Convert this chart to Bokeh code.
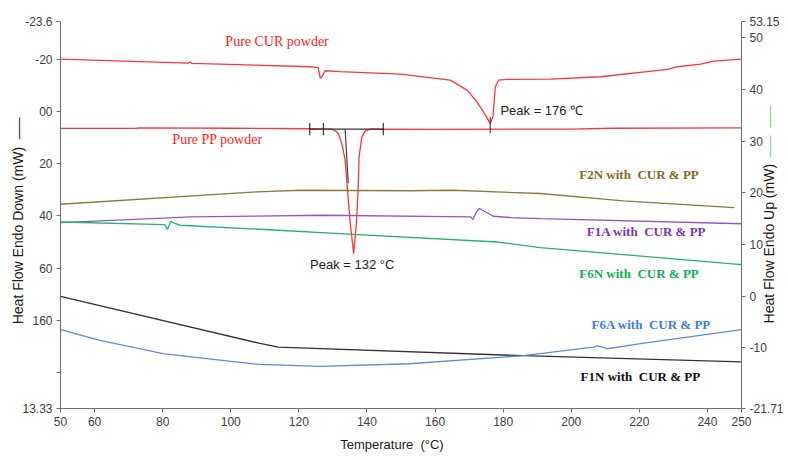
import math
from bokeh.plotting import figure
from bokeh.models import Range1d, LinearAxis, FixedTicker, CustomJSTickFormatter, Label
from bokeh.embed import file_html
from bokeh.resources import INLINE

# ---------------- data (temperature in °C, heat flow in mW on the right-axis scale) ----------------
cur_T = [50, 87.5, 88.1, 88.6, 123.3, 125.7, 126.3, 126.9, 127.7, 132.1, 149.8, 164.5, 169.4, 172.3,
         174.8, 176.2, 177.0, 177.7, 178.7, 181.1, 193.9, 208.6, 228.3, 231.2, 238.0, 241.8, 250]
cur_v = [45.89, 45.11, 45.31, 45.05, 44.40, 44.24, 42.15, 42.60, 43.62, 43.47, 42.98, 41.82, 39.88, 37.62,
         35.04, 33.43, 34.71, 40.52, 41.82, 41.96, 42.01, 42.46, 43.89, 44.40, 44.92, 45.50, 45.89]

pp_T = [50, 72.3, 72.7, 100, 123.0, 129.7, 130.7, 131.6, 132.6, 133.6, 134.3, 135.1, 136.1, 136.9,
        137.4, 137.7, 138.5, 139.5, 141.0, 160, 200, 212, 250]
pp_v = [32.46, 32.46, 32.58, 32.50, 32.40, 32.33, 32.00, 31.50, 29.56, 26.33, 20.51, 14.06, 8.25, 14.06,
        20.51, 26.96, 30.84, 32.00, 32.33, 32.30, 32.35, 32.50, 32.58]

f2n_T = [50, 107.6, 120.4, 152.4, 165.4, 190.9, 215.3, 247.9]
f2n_v = [17.80, 20.19, 20.51, 20.41, 20.51, 19.88, 18.44, 17.16]

f1a_T = [50, 88.4, 126.9, 170.5, 171.1, 172.1, 173.0, 174.5, 177.1, 182.1, 191.2, 250]
f1a_v = [14.26, 15.34, 15.67, 15.34, 14.84, 16.25, 16.97, 16.45, 15.48, 15.23, 15.03, 14.03]

f6n_T = [50, 80.65, 81.4, 81.9, 82.4, 83.7, 85.1, 108.6, 136.0, 178.2, 190.9, 250]
f6n_v = [14.37, 13.87, 12.90, 13.74, 14.51, 14.03, 13.74, 12.96, 11.99, 10.50, 9.42, 6.12]

f1n_T = [50, 108.6, 113.9, 185.9, 250]
f1n_v = [-0.02, -9.12, -9.84, -11.50, -12.70]

f6a_T = [50, 61.6, 80.1, 100.1, 108.6, 126.3, 152.4, 185.9, 206.5, 207.7, 210.6, 220.3, 250]
f6a_v = [-6.47, -8.54, -11.11, -12.60, -13.19, -13.58, -13.05, -11.50, -9.84, -9.61, -10.15, -9.18, -6.47]

# peak-analysis marks
pp_base_T = [123.2, 144.8]
pp_base_v = 32.33
pp_tick_T = [123.2, 127.2, 144.8]
pp_tangent_T = [133.6, 134.5]
pp_tangent_v = [32.33, 21.87]
cur_peak_T = 176.2
cur_peak_v = [34.65, 31.55]

# axes
x_ticks = [50, 60, 80, 100, 120, 140, 160, 180, 200, 220, 240, 250]
right_ticks = [-21.71, -10, 0, 10, 20, 30, 40, 50, 53.15]
right_tick_labels = ["-21.71", "-10", "0", "10", "20", "30", "40", "50", "53.15"]
left_ticks = [-34.35, -20, 0, 20, 40, 60, 80, 100, 113.6]
left_tick_labels = ["-23.6", "-20", "00", "20", "40", "60", "160", "", "13.33"]
right_title = "Heat Flow Endo Up (mW)"
right_title_start = -5.25      # where the rotated right title begins (right-axis units)
right_key_start = 26.91        # where its green line keys begin

NB = "\u00a0"

# ---------------- figure ----------------
FONT = "Liberation Sans"
SERIF = "Liberation Serif"
AX = "#6e6e6e"
TXT = "#404040"

p = figure(width=788, height=460, output_backend="svg", toolbar_location=None,
           x_range=Range1d(50, 250), y_range=Range1d(-21.71, 53.15),
           y_axis_location="right",
           min_border_left=60, min_border_right=47, min_border_top=21, min_border_bottom=52)
p.outline_line_color = None
p.xgrid.visible = False
p.ygrid.visible = False
p.background_fill_color = "white"

p.extra_y_ranges = {"left": Range1d(start=113.6, end=-34.35)}


def fmt(vals, labels):
    return CustomJSTickFormatter(args=dict(vals=vals, labels=labels), code="""
for (let i = 0; i < vals.length; i++) { if (Math.abs(vals[i] - tick) < 1e-6) return labels[i]; }
return "";
""")


def style(ax):
    ax.axis_line_color = AX
    ax.major_tick_line_color = AX
    ax.major_tick_out = 4
    ax.major_tick_in = 0
    ax.minor_tick_out = 0
    ax.minor_tick_in = 0
    ax.major_label_text_font = FONT
    ax.major_label_text_font_size = "12px"
    ax.major_label_text_color = TXT
    ax.major_label_standoff = 4
    ax.axis_label_text_font = FONT
    ax.axis_label_text_font_style = "normal"
    ax.axis_label_text_font_size = "14px"
    ax.axis_label_text_color = "#1a1a1a"


xa = p.xaxis[0]
style(xa)
xa.ticker = FixedTicker(ticks=x_ticks)
xa.axis_label = "Temperature" + NB + " (°C)" + NB * 5
xa.axis_label_text_font_size = "13px"
xa.axis_label_standoff = 8

ra = p.yaxis[0]
style(ra)
ra.ticker = FixedTicker(ticks=right_ticks)
ra.formatter = fmt(right_ticks, right_tick_labels)


def title_axis(at, text, color, standoff):
    ax = LinearAxis()
    ax.ticker = FixedTicker(ticks=[at])
    ax.formatter = fmt([at], [text])
    ax.axis_line_color = None
    ax.major_tick_line_color = None
    ax.major_tick_out = 0
    ax.major_tick_in = 0
    ax.minor_tick_out = 0
    ax.minor_tick_in = 0
    ax.major_label_standoff = standoff
    ax.major_label_orientation = math.pi / 2
    ax.major_label_text_font = FONT
    ax.major_label_text_font_size = "14px"
    ax.major_label_text_color = color
    p.add_layout(ax, "right")


title_axis(right_title_start, right_title, "#1a1a1a", -17)
title_axis(right_key_start, "—–" + NB * 2 + "—–", "#86c486", -19)

la = LinearAxis(y_range_name="left")
style(la)
la.ticker = FixedTicker(ticks=left_ticks)
la.formatter = fmt(left_ticks, left_tick_labels)
la.axis_label = "Heat Flow Endo Down (mW)" + NB * 2 + "—–" + NB * 3
la.axis_label_standoff = -7
p.add_layout(la, "left")

# ---------------- curves ----------------
LW = 1.3
p.line(cur_T, cur_v, color="#ff3636", line_width=LW)
p.line(pp_T, pp_v, color="#ff3636", line_width=LW)
p.line(f2n_T, f2n_v, color="#8e7a3c", line_width=LW)
p.line(f1a_T, f1a_v, color="#9456c4", line_width=LW)
p.line(f6n_T, f6n_v, color="#22b566", line_width=LW)
p.line(f1n_T, f1n_v, color="#333333", line_width=LW)
p.line(f6a_T, f6a_v, color="#5f8ae0", line_width=LW)

# peak-analysis marks
p.segment(x0=[pp_base_T[0]], y0=[pp_base_v], x1=[pp_base_T[1]], y1=[pp_base_v], color="#333333", line_width=1.2)
p.segment(x0=pp_tick_T, y0=[pp_base_v + 1.2] * 3, x1=pp_tick_T, y1=[pp_base_v - 1.2] * 3, color="#222222", line_width=1.1)
p.segment(x0=[pp_tangent_T[0]], y0=[pp_tangent_v[0]], x1=[pp_tangent_T[1]], y1=[pp_tangent_v[1]], color="#444444", line_width=1.2)
p.segment(x0=[cur_peak_T], y0=[cur_peak_v[0]], x1=[cur_peak_T], y1=[cur_peak_v[1]], color="#333333", line_width=1.1)

# ---------------- texts ----------------
def lab(x, y, text, color, font=FONT, size="13px", style="normal", align="center"):
    p.add_layout(Label(x=x, y=y, text=text, text_color=color, text_font=font, text_font_size=size,
                       text_font_style=style, text_align=align, text_baseline="middle"))

lab(113.6, 49.37, "Pure CUR powder", "#ff1a1a", font=SERIF, size="14px")
lab(96.1, 30.39, "Pure PP powder", "#ff1a1a", font=SERIF, size="14px")
lab(179.2, 36.01, "Peak = 176 ℃", "#222222", align="left")
lab(123.3, 6.18, "Peak = 132 °C", "#222222", align="left")

W = "with" + NB + " "
lab(219.9, 23.61, "F2N " + W + "CUR & PP", "#86681a", font=SERIF, style="bold")
lab(222.1, 12.57, "F1A " + W + "CUR & PP", "#7a35b0", font=SERIF, style="bold")
lab(219.9, 4.50, "F6N " + W + "CUR & PP", "#10b050", font=SERIF, style="bold")
lab(223.5, -5.44, "F6A " + W + "CUR & PP", "#3c7ee8", font=SERIF, style="bold")
lab(220.3, -15.51, "F1N " + W + "CUR & PP", "#111111", font=SERIF, style="bold")

open("out.html", "w").write(file_html(p, INLINE))
